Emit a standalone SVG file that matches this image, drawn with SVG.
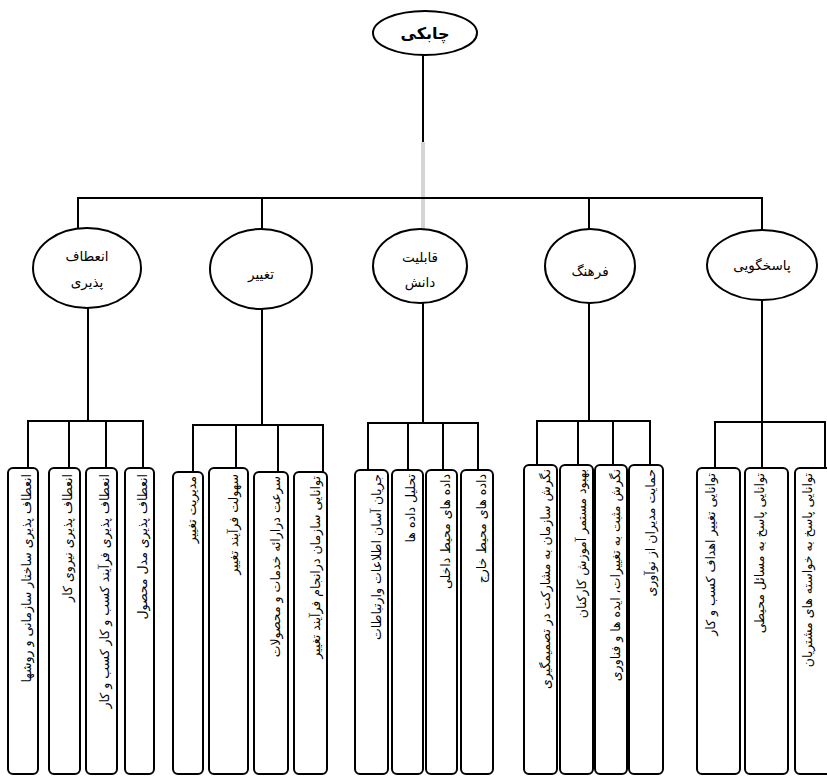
<svg xmlns="http://www.w3.org/2000/svg" width="827" height="779" viewBox="0 0 827 779">
<style>
.ell{fill:#fff;stroke:#000;stroke-width:2}
.box{fill:#fff;stroke:#000;stroke-width:2}
.ln{stroke:#000;stroke-width:2;fill:none}
.lbl{font-family:"DejaVu Sans",sans-serif;font-size:13.5px;fill:#000;text-anchor:middle}
.vt{font-family:"DejaVu Sans",sans-serif;font-size:12.5px;fill:#000;text-anchor:end}
.root{font-family:"DejaVu Sans",sans-serif;font-size:16px;font-weight:bold;fill:#000;text-anchor:middle}
</style>
<rect width="827" height="779" fill="#fff"/>
<g id="connectors">
<line class="ln" x1="423" y1="55" x2="423" y2="142"/>
<line x1="423" y1="142" x2="423" y2="230" stroke="#aaa" stroke-width="3"/>
<line x1="423" y1="142" x2="423" y2="230" stroke="#fff" stroke-width="1"/>
<polyline class="ln" points="78,228 78,198 762,198 762,230"/>
<line class="ln" x1="262" y1="198" x2="262" y2="229"/>
<line class="ln" x1="589" y1="198" x2="589" y2="229"/>
<line class="ln" x1="88" y1="292" x2="88" y2="421"/>
<polyline class="ln" points="28,468 28,421 143,421 143,468"/>
<line class="ln" x1="69" y1="421" x2="69" y2="468"/>
<line class="ln" x1="106" y1="421" x2="106" y2="468"/>
<line class="ln" x1="262" y1="293" x2="262" y2="425"/>
<polyline class="ln" points="193,472 193,425 323,425 323,472"/>
<line class="ln" x1="236" y1="425" x2="236" y2="468"/>
<line class="ln" x1="278" y1="425" x2="278" y2="472"/>
<line class="ln" x1="423" y1="290" x2="423" y2="423"/>
<polyline class="ln" points="368,470 368,423 478,423 478,470"/>
<line class="ln" x1="408" y1="423" x2="408" y2="470"/>
<line class="ln" x1="443" y1="423" x2="443" y2="470"/>
<line class="ln" x1="589" y1="283" x2="589" y2="421"/>
<polyline class="ln" points="537,465 537,421 650,421 650,465"/>
<line class="ln" x1="578" y1="421" x2="578" y2="465"/>
<line class="ln" x1="613" y1="421" x2="613" y2="465"/>
<line class="ln" x1="762" y1="283" x2="762" y2="468"/>
<polyline class="ln" points="715,468 715,422 825,422 825,468"/>
</g>
<g id="root"><ellipse class="ell" cx="425" cy="33" rx="52" ry="22"/><text class="root" x="425" y="39">چابکی</text></g>
<g id="n1"><ellipse class="ell" cx="87" cy="268" rx="54" ry="40"/><text class="lbl" x="87" y="261">انعطاف</text><text class="lbl" x="87" y="287">پذیری</text></g>
<g id="n2"><ellipse class="ell" cx="261" cy="269" rx="51" ry="40"/><text class="lbl" x="261" y="279">تغییر</text></g>
<g id="n3"><ellipse class="ell" cx="420" cy="266" rx="47" ry="37"/><text class="lbl" x="420" y="262">قابلیت</text><text class="lbl" x="420" y="287">دانش</text></g>
<g id="n4"><ellipse class="ell" cx="590" cy="266" rx="45" ry="37"/><text class="lbl" x="590" y="276">فرهنگ</text></g>
<g id="n5"><ellipse class="ell" cx="762" cy="265" rx="55" ry="35"/><text class="lbl" x="762" y="270">پاسخگویی</text></g>
<!-- group 1 -->
<g id="b1a"><rect class="box" x="8" y="468" width="30" height="306" rx="5"/><text class="vt" transform="translate(31,474) rotate(-90)">انعطاف پذیری ساختار سازمانی و روشها</text></g>
<g id="b1b"><rect class="box" x="49" y="468" width="31" height="306" rx="5"/><text class="vt" transform="translate(72,474) rotate(-90)">انعطاف پذیری نیروی کار</text></g>
<g id="b1c"><rect class="box" x="86" y="468" width="31" height="306" rx="5"/><text class="vt" transform="translate(109,474) rotate(-90)">انعطاف پذیری فرآیند کسب و کار کسب و کار</text></g>
<g id="b1d"><rect class="box" x="125" y="468" width="29" height="306" rx="5"/><text class="vt" transform="translate(147,474) rotate(-90)">انعطاف پذیری مدل محصول</text></g>
<!-- group 2 -->
<g id="b2a"><rect class="box" x="173" y="472" width="30" height="302" rx="5"/><text class="vt" transform="translate(196,476) rotate(-90)">مدیریت تغییر</text></g>
<g id="b2b"><rect class="box" x="209" y="468" width="39" height="306" rx="5"/><text class="vt" transform="translate(238,474) rotate(-90)">سهولت فرآیند تغییر</text></g>
<g id="b2c"><rect class="box" x="254" y="472" width="34" height="302" rx="5"/><text class="vt" transform="translate(280,476) rotate(-90)">سرعت درارائه خدمات و محصولات</text></g>
<g id="b2d"><rect class="box" x="294" y="472" width="33" height="302" rx="5"/><text class="vt" transform="translate(320,476) rotate(-90)">توانایی سازمان درانجام فرآیند تغییر</text></g>
<!-- group 3 -->
<g id="b3a"><rect class="box" x="355" y="470" width="33" height="304" rx="5"/><text class="vt" transform="translate(381,474) rotate(-90)">جریان آسان اطلاعات وارتباطات</text></g>
<g id="b3b"><rect class="box" x="392" y="470" width="31" height="304" rx="5"/><text class="vt" transform="translate(415,474) rotate(-90)">تحلیل داده ها</text></g>
<g id="b3c"><rect class="box" x="426" y="470" width="31" height="304" rx="5"/><text class="vt" transform="translate(450,474) rotate(-90)">داده های محیط داخلی</text></g>
<g id="b3d"><rect class="box" x="461" y="470" width="32" height="304" rx="5"/><text class="vt" transform="translate(486,474) rotate(-90)">داده های محیط خارج</text></g>
<!-- group 4 -->
<g id="b4a"><rect class="box" x="524" y="465" width="33" height="309" rx="5"/><text class="vt" transform="translate(550,469) rotate(-90)">نگرش سازمان به مشارکت در تصمیمگیری</text></g>
<g id="b4b"><rect class="box" x="560" y="465" width="33" height="309" rx="5"/><text class="vt" transform="translate(586,469) rotate(-90)">بهبود مستمر آموزش کارکنان</text></g>
<g id="b4c"><rect class="box" x="595" y="465" width="32" height="309" rx="5"/><text class="vt" transform="translate(620,469) rotate(-90)">نگرش مثبت به تغییرات، ایده ها و فناوری</text></g>
<g id="b4d"><rect class="box" x="629" y="465" width="34" height="309" rx="5"/><text class="vt" transform="translate(655,469) rotate(-90)">حمایت مدیران از نوآوری</text></g>
<!-- group 5 -->
<g id="b5a"><rect class="box" x="697" y="468" width="43" height="306" rx="5"/><text class="vt" transform="translate(715,473) rotate(-90)">توانایی تغییر اهداف کسب و کار</text></g>
<g id="b5b"><rect class="box" x="745" y="468" width="43" height="306" rx="5"/><text class="vt" transform="translate(764,473) rotate(-90)">توانایی پاسخ به مسائل محیطی</text></g>
<g id="b5c"><rect class="box" x="795" y="468" width="45" height="306" rx="5"/><text class="vt" transform="translate(812,473) rotate(-90)">توانایی پاسخ به خواسته های مشتریان</text></g>
</svg>
